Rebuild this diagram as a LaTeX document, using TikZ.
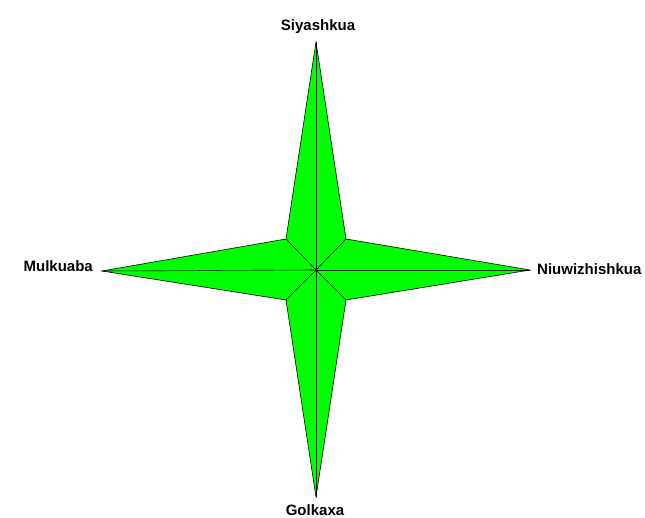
\documentclass[tikz,border=0pt]{standalone}
\usepackage{fontspec}
\setmainfont{Liberation Sans}
\begin{document}
\begin{tikzpicture}[x=1pt,y=-1pt,
  star/.style={fill=green,draw=black,line width=0.6pt,line join=miter},
  ray/.style={draw=black,line width=0.6pt},
  lbl/.style={font=\bfseries\fontsize{15}{18}\selectfont,inner sep=0pt}]
\useasboundingbox (0,0) rectangle (645,518);
\coordinate (c) at (316,270);
\coordinate (t) at (316,42);
\coordinate (b) at (316,497);
\coordinate (l) at (102,271);
\coordinate (r) at (530,270);
\coordinate (tl) at (286,239);
\coordinate (tr) at (346,239);
\coordinate (bl) at (286,300);
\coordinate (br) at (346,300);
\path[star] (t) -- (tr) -- (r) -- (br) -- (b) -- (bl) -- (l) -- (tl) -- cycle;
\foreach \p in {t,b,l,r,tl,tr,bl,br} \draw[ray] (c) -- (\p);
\node[lbl,anchor=base] (nt) at (318,31) {Siyashkua};
\node[lbl,anchor=base] (nb) at (315,515) {Golkaxa};
\node[lbl,anchor=base east] (nl) at (93,272) {Mulkuaba};
\node[lbl,anchor=base west] (nr) at (537,275) {Niuwizhishkua};
\end{tikzpicture}
\end{document}
